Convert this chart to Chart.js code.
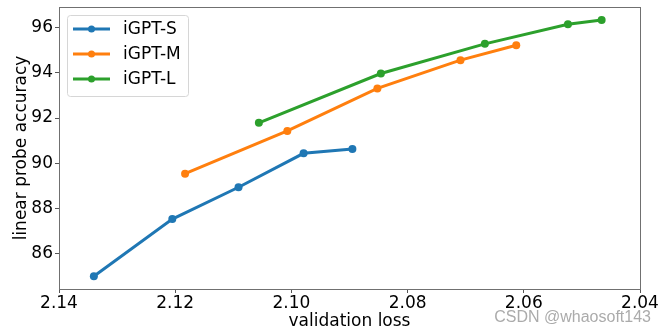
<!DOCTYPE html>
<html>
<head>
<meta charset="utf-8">
<script src="https://cdn.jsdelivr.net/npm/chart.js@4/dist/chart.umd.min.js"></script>
<style>
  html, body { margin: 0; padding: 0; background: #fff; }
</style>
</head>
<body>
<canvas id="chart" width="666" height="335"></canvas>
<script>
// data
const seriesNames = ['iGPT-S', 'iGPT-M', 'iGPT-L'];
const seriesColors = ['#1f77b4', '#ff7f0e', '#2ca02c'];
const lossS = [2.1340, 2.1205, 2.1091, 2.0979, 2.0895];
const accS  = [85.00, 87.53, 88.94, 90.44, 90.63];
const lossM = [2.1183, 2.1007, 2.0852, 2.0709, 2.0613];
const accM  = [89.54, 91.43, 93.31, 94.56, 95.22];
const lossL = [2.1056, 2.0846, 2.0667, 2.0524, 2.0466];
const accL  = [91.79, 93.97, 95.28, 96.15, 96.34];
const xTicks = [2.14, 2.12, 2.10, 2.08, 2.06, 2.04];
const yTicks = [86, 88, 90, 92, 94, 96];

const FONT = 'DejaVu Sans';
const toPts = (xs, ys) => xs.map((x, i) => ({x: x, y: ys[i]}));
const allData = [toPts(lossS, accS), toPts(lossM, accM), toPts(lossL, accL)];

// box round the plot, legend and watermark
const extras = {
    id: 'extras',
    afterDraw(chart) {
        const ctx = chart.ctx;
        const a = chart.chartArea;
        ctx.save();
        ctx.strokeStyle = '#707070';
        ctx.lineWidth = 1;
        ctx.strokeRect(Math.round(a.left) + 0.5, Math.round(a.top) + 0.5,
                       Math.round(a.right - a.left), Math.round(a.bottom - a.top));

        // legend
        const bx = 67.5, by = 15.5, bw = 121, bh = 81;
        ctx.beginPath();
        ctx.roundRect(bx, by, bw, bh, 3);
        ctx.fillStyle = 'rgba(255,255,255,0.8)';
        ctx.fill();
        ctx.strokeStyle = '#d6d6d6';
        ctx.stroke();
        const rows = [29, 54, 79];
        ctx.font = '17px "' + FONT + '"';
        ctx.textBaseline = 'middle';
        ctx.textAlign = 'left';
        seriesNames.forEach((name, i) => {
            const y = rows[i];
            ctx.strokeStyle = seriesColors[i];
            ctx.lineWidth = 3;
            ctx.beginPath();
            ctx.moveTo(73, y);
            ctx.lineTo(110, y);
            ctx.stroke();
            ctx.fillStyle = seriesColors[i];
            ctx.beginPath();
            ctx.arc(91.5, y, 3.5, 0, Math.PI * 2);
            ctx.fill();
            ctx.fillStyle = '#000';
            ctx.fillText(name, 123, y + 1);
        });

        // watermark
        ctx.font = '16px "Liberation Sans"';
        ctx.textAlign = 'right';
        ctx.textBaseline = 'alphabetic';
        ctx.fillStyle = '#ababab';
        ctx.fillText('CSDN @whaosoft143', 651, 322);
        ctx.restore();
    }
};

new Chart(document.getElementById('chart').getContext('2d'), {
    type: 'line',
    data: {
        datasets: seriesNames.map((name, i) => ({
            label: name,
            data: allData[i],
            borderColor: seriesColors[i],
            backgroundColor: seriesColors[i],
            borderWidth: 3,
            pointRadius: 4,
            pointBorderWidth: 0,
            pointBackgroundColor: seriesColors[i],
            tension: 0,
            fill: false
        }))
    },
    options: {
        responsive: false,
        animation: false,
        devicePixelRatio: 1,
        layout: { padding: { left: 0, right: 26, top: 7, bottom: 0 } },
        plugins: {
            legend: { display: false },
            tooltip: { enabled: false }
        },
        scales: {
            x: {
                type: 'linear',
                reverse: true,
                min: 2.04,
                max: 2.14,
                afterBuildTicks: s => { s.ticks = xTicks.map(v => ({value: v})); },
                afterFit: s => { s.height = 46; s.paddingLeft = 0; s.paddingRight = 0; },
                grid: { drawOnChartArea: false, drawTicks: true, tickLength: 4, color: '#555' },
                border: { display: false },
                ticks: {
                    padding: 0,
                    color: '#000',
                    maxRotation: 0,
                    font: { family: FONT, size: 17, lineHeight: 1.2 },
                    callback: v => Number(v).toFixed(2)
                },
                title: {
                    display: true,
                    text: 'validation loss',
                    color: '#000',
                    font: { family: FONT, size: 17, lineHeight: 1.2 },
                    padding: { top: 0, bottom: 3 }
                }
            },
            y: {
                type: 'linear',
                min: 84.44,
                max: 96.91,
                afterBuildTicks: s => { s.ticks = yTicks.map(v => ({value: v})); },
                afterFit: s => { s.width = 59; s.paddingTop = 0; s.paddingBottom = 0; },
                grid: { drawOnChartArea: false, drawTicks: true, tickLength: 4, color: '#555' },
                border: { display: false },
                ticks: {
                    padding: 2,
                    color: '#000',
                    font: { family: FONT, size: 17, lineHeight: 1.2 },
                    callback: v => String(v)
                },
                title: {
                    display: true,
                    text: 'linear probe accuracy',
                    color: '#000',
                    font: { family: FONT, size: 17, lineHeight: 1.2 },
                    padding: { top: 11, bottom: 0 }
                }
            }
        }
    },
    plugins: [extras]
});
</script>
</body>
</html>
